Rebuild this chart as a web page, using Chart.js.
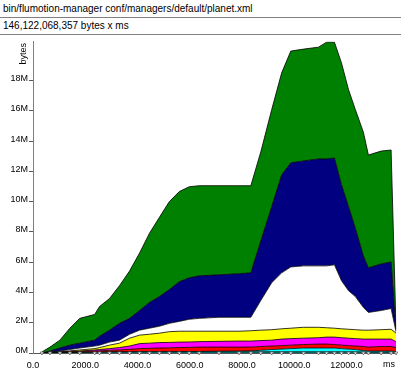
<!DOCTYPE html>
<html>
<head>
<meta charset="utf-8">
<script src="https://cdn.jsdelivr.net/npm/chart.js@4.4.1/dist/chart.umd.min.js"></script>
<style>
  html, body { margin: 0; padding: 0; background: #fff; }
  body { width: 401px; height: 372px; overflow: hidden; position: relative; font-family: "Liberation Sans", Arial, sans-serif; }
  .hd { position: absolute; left: 0; width: 401px; box-sizing: border-box; border-bottom: 1px solid #808080;
        font-size: 10px; padding-left: 3px; color: #000; }
  #h1 { top: 0; height: 18px; line-height: 17px; }
  #h2 { top: 18px; height: 17px; line-height: 16px; }
  #wrap { position: absolute; left: 0; top: 35px; width: 401px; height: 337px; }
</style>
</head>
<body>
<div class="hd" id="h1">bin/flumotion-manager conf/managers/default/planet.xml</div>
<div class="hd" id="h2">146,122,068,357 bytes x ms</div>
<div id="wrap"><canvas id="c"></canvas></div>
<script>
// ---- data (ms, and cumulative band tops in M bytes) ----
const times = [340, 650, 1030, 1410, 1790, 2360, 2550, 2930, 3310, 3700, 4080, 4460, 4840, 5220, 5600, 5980, 6360, 7120, 7890, 8340,
  8720, 9140, 9520, 9870, 10360, 10930, 11240, 11540, 11810, 12080, 12340, 12650, 12840, 13330, 13710, 13900];

const tealTop = [0, .01, .03, .03, .04, .05, .05, .07, .07, .07, .08, .08, .08, .08, .08, .08, .08, .08, .08, .08,
  .08, .08, .08, .08, .08, .08, .08, .08, .08, .08, .08, .07, .07, .07, .07, .07];
const cyanTop = [0, .01, .03, .03, .04, .05, .05, .07, .07, .07, .08, .08, .08, .08, .08, .10, .10, .12, .13, .14,
  .18, .23, .26, .29, .33, .33, .33, .33, .29, .26, .23, .16, .13, .13, .13, .10];
const redTop = [0, .03, .05, .08, .10, .13, .14, .18, .20, .24, .29, .31, .33, .34, .36, .37, .39, .39, .39, .39,
  .43, .46, .49, .52, .56, .59, .59, .56, .52, .49, .46, .43, .39, .43, .43, .36];
const magentaTop = [0, .03, .07, .10, .13, .20, .23, .29, .36, .46, .62, .65, .69, .70, .72, .73, .75, .77, .79, .79,
  .82, .85, .92, .95, .98, 1.01, 1.05, 1.05, 1.01, .98, .95, .92, .92, .92, .92, .75];
const yellowTop = [0, .05, .09, .14, .20, .29, .36, .52, .65, .98, 1.18, 1.24, 1.31, 1.41, 1.44, 1.44, 1.44, 1.44, 1.44, 1.47,
  1.51, 1.54, 1.60, 1.64, 1.70, 1.70, 1.67, 1.64, 1.60, 1.57, 1.54, 1.51, 1.51, 1.54, 1.57, 1.31];
const whiteTop = [0, .07, .13, .23, .33, .46, .52, .72, .85, 1.24, 1.51, 1.64, 1.77, 1.96, 2.09, 2.23, 2.29, 2.36, 2.36, 2.36,
  3.47, 4.65, 5.30, 5.69, 5.76, 5.76, 5.76, 5.83, 4.78, 4.12, 3.73, 3.01, 2.68, 2.81, 2.94, 1.40];
const navyTop = [.01, .13, .33, .52, .65, .85, 1.11, 1.51, 1.96, 2.29, 2.81, 3.34, 3.73, 4.19, 4.71, 4.97, 5.10, 5.17, 5.24, 5.30,
  7.40, 9.69, 11.78, 12.57, 12.70, 12.83, 12.83, 12.89, 11.13, 9.69, 8.25, 6.41, 5.63, 5.89, 6.02, 1.50];
const greenTop = [.07, .39, .85, 1.64, 2.29, 2.55, 3.08, 3.60, 4.45, 5.43, 6.61, 7.92, 8.97, 10.01, 10.67, 10.99, 11.06, 11.06, 11.06, 11.06,
  13.29, 16.10, 18.52, 19.96, 20.09, 20.22, 20.55, 20.55, 19.18, 17.41, 16.10, 14.59, 13.09, 13.35, 13.42, 1.55];

const xTicks = [0, 2000, 4000, 6000, 8000, 10000, 12000];
const yTicks = [0, 2, 4, 6, 8, 10, 12, 14, 16, 18];

const bands = [
  [tealTop, '#008080'],
  [cyanTop, '#00ffff'],
  [redTop, '#ff0000'],
  [magentaTop, '#ff00ff'],
  [yellowTop, '#ffff00'],
  [whiteTop, '#ffffff'],
  [navyTop, '#000080'],
  [greenTop, '#008000']
];

const datasets = bands.map(([vals, col], i) => ({
  data: times.map((t, k) => ({ x: t, y: vals[k] })),
  backgroundColor: col,
  borderColor: '#000',
  borderWidth: 0.8,
  fill: i === 0 ? 'origin' : '-1',
  pointRadius: 0,
  tension: 0
}));

// sample markers on the axis
datasets.push({
  data: times.map(t => ({ x: t, y: 0 })),
  showLine: false,
  fill: false,
  pointStyle: 'triangle',
  rotation: 180,
  pointRadius: 2,
  borderColor: '#666',
  backgroundColor: '#fff',
  borderWidth: 0.8,
  clip: false,
  order: -1
});

const labels = {
  id: 'labels',
  afterDraw(chart) {
    const { ctx, chartArea } = chart;
    ctx.save();
    ctx.fillStyle = '#000';
    ctx.font = '9px "Liberation Sans", Arial, sans-serif';
    ctx.textAlign = 'center';
    ctx.textBaseline = 'top';
    ctx.fillText('ms', 389, chartArea.bottom + 7);
    ctx.translate(24, 8);
    ctx.rotate(-Math.PI / 2);
    ctx.textAlign = 'right';
    ctx.textBaseline = 'middle';
    ctx.fillText('bytes', 0, 0);
    ctx.restore();
  }
};

const tickFont = { family: '"Liberation Sans", Arial, sans-serif', size: 9 };

new Chart(document.getElementById('c'), {
  type: 'line',
  data: { datasets },
  plugins: [labels],
  options: {
    responsive: true,
    maintainAspectRatio: false,
    animation: false,
    layout: { padding: { top: 4, right: 3, left: 0, bottom: 0 } },
    plugins: { legend: { display: false }, tooltip: { enabled: false } },
    scales: {
      x: {
        type: 'linear',
        min: 0,
        max: 13905,
        afterBuildTicks: s => { s.ticks = xTicks.map(v => ({ value: v })); },
        afterFit: s => { s.height = 19; },
        ticks: { font: tickFont, color: '#000', padding: 7, maxRotation: 0, autoSkip: false,
                 callback: v => v.toFixed(1) },
        grid: { drawOnChartArea: false, drawTicks: false },
        border: { color: '#555' }
      },
      y: {
        min: 0,
        max: 20.6,
        afterBuildTicks: s => { s.ticks = yTicks.map(v => ({ value: v })); },
        afterFit: s => { s.width = 33; },
        ticks: { font: tickFont, color: '#000', padding: 1, labelOffset: -2, autoSkip: false,
                 callback: v => v + 'M' },
        grid: { drawOnChartArea: false, drawTicks: true, tickLength: 4, color: '#555' },
        border: { color: '#808080' }
      }
    }
  }
});
</script>
</body>
</html>
